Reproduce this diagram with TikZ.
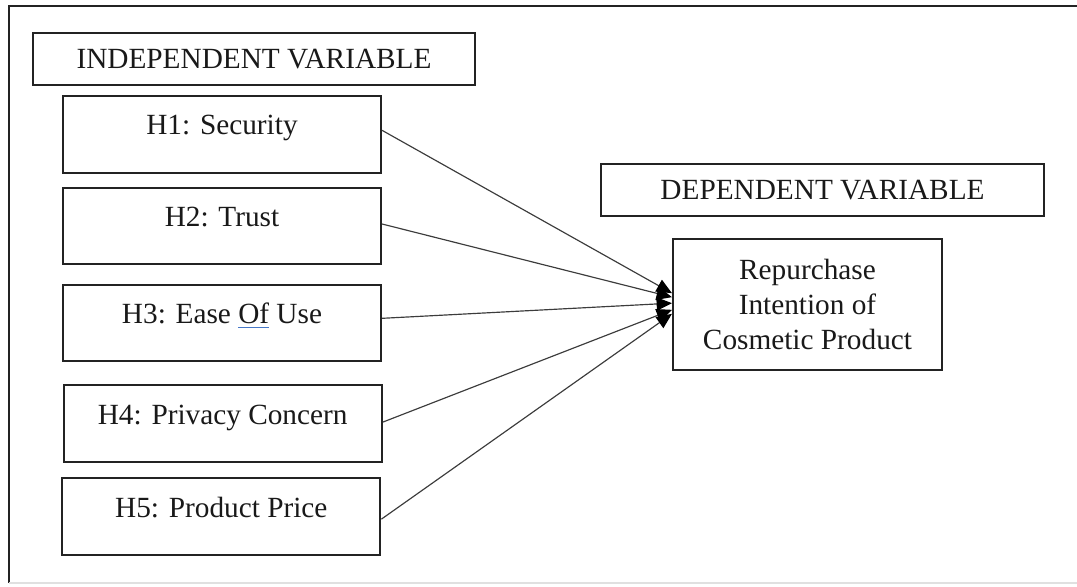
\documentclass[tikz,border=0pt]{standalone}
\usepackage{fontspec}
\setmainfont{Liberation Serif}
\usepackage{tikz}
\usetikzlibrary{arrows.meta, positioning}
\definecolor{frameGrey}{RGB}{35, 35, 35}
\definecolor{lineGrey}{RGB}{60, 60, 60}
\definecolor{spellBlue}{RGB}{70, 120, 200}
\tikzset{every node/.style={font=\fontsize{12.5}{15}\selectfont, text=black!90}, every path/.style={line join=miter}, >={Triangle[length=2.3mm, width=2mm, color=black]}}

\begin{document}
\begin{tikzpicture}[
    title/.style={
        draw=frameGrey,
        line width=0.9pt,
        minimum height=0.78cm,
        inner sep=0pt
    },
    hypo/.style={
        draw=frameGrey,
        line width=0.9pt,
        minimum width=4.77cm,
        text height=12.6pt,
        text depth=12.15pt,
        inner ysep=4pt
    },
    target/.style={
        draw=frameGrey,
        line width=0.9pt,
        align=center,
        minimum width=4.035cm,
        minimum height=1.965cm
    },
    arrow/.style={
        ->,
        draw=lineGrey,
        line width=0.5pt
    }
]

\useasboundingbox (0,0) rectangle (16.155,8.805);

% outer frame
\draw[frameGrey, line width=0.95pt] (0.135,0.06) |- (16.155,8.715);
\draw[black!12, line width=0.6pt] (0.135,0.06) -- (16.155,0.06);

\node[title, minimum width=6.63cm] (indep) at (3.81,7.92) {INDEPENDENT VARIABLE};

\node[hypo] (h1) at (3.33,6.79) {H1: Security};
\node[hypo] (h2) at (3.33,5.415) {H2: Trust};
\node[hypo] (h3) at (3.33,3.96)
{H3: Ease \textcolor{spellBlue}{\underline{\textcolor{black!90}{Of}}} Use};
\node[hypo] (h4) at (3.34,2.4525) {H4: Privacy Concern};
\node[hypo] (h5) at (3.32,1.0575) {H5: Product Price};

\node[title, minimum width=6.645cm] (dep) at (12.3375,5.955) {DEPENDENT VARIABLE};

\node[target] (rep) at (12.1125,4.2375)
{Repurchase\\Intention of\\Cosmetic Product};

\draw[arrow] ([yshift=0.06cm]h1.east) -- ([yshift=0.17cm]rep.west);
\draw[arrow] ([yshift=0.03cm]h2.east) -- ([yshift=0.11cm]rep.west);
\draw[arrow] ([yshift=0.07cm]h3.east) -- ([yshift=0.02cm]rep.west);
\draw[arrow] ([yshift=0.02cm]h4.east) -- ([yshift=-0.08cm]rep.west);
\draw[arrow] ([yshift=-0.04cm]h5.east) -- ([yshift=-0.14cm]rep.west);

\end{tikzpicture}
\end{document}
